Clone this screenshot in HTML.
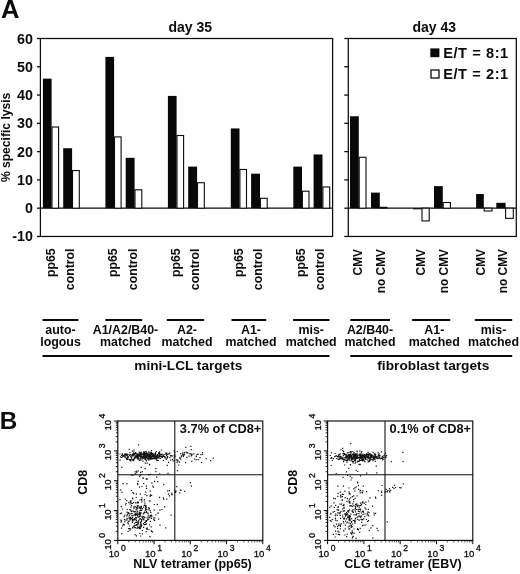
<!DOCTYPE html><html><head><meta charset="utf-8"><title>Figure</title><style>html,body{margin:0;padding:0;background:#fff}svg{display:block}text{font-family:"Liberation Sans",Arial,sans-serif;font-weight:bold;fill:#0b0b0b}</style></head><body>
<svg width="520" height="574" viewBox="0 0 520 574">
<rect width="520" height="574" fill="#fff"/>
<text x="0.90" y="18.20" font-size="25.5" text-anchor="start">A</text>
<text x="-0.20" y="429.40" font-size="24.3" text-anchor="start">B</text>
<rect x="40.4" y="38.5" width="292.20000000000005" height="197.96" fill="none" stroke="#0b0b0b" stroke-width="1.25"/>
<line x1="40.40" y1="208.18" x2="332.60" y2="208.18" stroke="#0b0b0b" stroke-width="1.3"/>
<rect x="348.3" y="38.5" width="167.99999999999994" height="197.96" fill="none" stroke="#0b0b0b" stroke-width="1.25"/>
<line x1="348.30" y1="208.18" x2="516.30" y2="208.18" stroke="#0b0b0b" stroke-width="1.3"/>
<line x1="37.00" y1="236.46" x2="40.40" y2="236.46" stroke="#0b0b0b" stroke-width="1.3"/>
<line x1="344.30" y1="236.46" x2="348.30" y2="236.46" stroke="#0b0b0b" stroke-width="1.3"/>
<text x="33.00" y="241.46" font-size="14.3" text-anchor="end">-10</text>
<line x1="37.00" y1="208.18" x2="40.40" y2="208.18" stroke="#0b0b0b" stroke-width="1.3"/>
<line x1="344.30" y1="208.18" x2="348.30" y2="208.18" stroke="#0b0b0b" stroke-width="1.3"/>
<text x="33.00" y="213.18" font-size="14.3" text-anchor="end">0</text>
<line x1="37.00" y1="179.90" x2="40.40" y2="179.90" stroke="#0b0b0b" stroke-width="1.3"/>
<line x1="344.30" y1="179.90" x2="348.30" y2="179.90" stroke="#0b0b0b" stroke-width="1.3"/>
<text x="33.00" y="184.90" font-size="14.3" text-anchor="end">10</text>
<line x1="37.00" y1="151.62" x2="40.40" y2="151.62" stroke="#0b0b0b" stroke-width="1.3"/>
<line x1="344.30" y1="151.62" x2="348.30" y2="151.62" stroke="#0b0b0b" stroke-width="1.3"/>
<text x="33.00" y="156.62" font-size="14.3" text-anchor="end">20</text>
<line x1="37.00" y1="123.34" x2="40.40" y2="123.34" stroke="#0b0b0b" stroke-width="1.3"/>
<line x1="344.30" y1="123.34" x2="348.30" y2="123.34" stroke="#0b0b0b" stroke-width="1.3"/>
<text x="33.00" y="128.34" font-size="14.3" text-anchor="end">30</text>
<line x1="37.00" y1="95.06" x2="40.40" y2="95.06" stroke="#0b0b0b" stroke-width="1.3"/>
<line x1="344.30" y1="95.06" x2="348.30" y2="95.06" stroke="#0b0b0b" stroke-width="1.3"/>
<text x="33.00" y="100.06" font-size="14.3" text-anchor="end">40</text>
<line x1="37.00" y1="66.78" x2="40.40" y2="66.78" stroke="#0b0b0b" stroke-width="1.3"/>
<line x1="344.30" y1="66.78" x2="348.30" y2="66.78" stroke="#0b0b0b" stroke-width="1.3"/>
<text x="33.00" y="71.78" font-size="14.3" text-anchor="end">50</text>
<line x1="37.00" y1="38.50" x2="40.40" y2="38.50" stroke="#0b0b0b" stroke-width="1.3"/>
<line x1="344.30" y1="38.50" x2="348.30" y2="38.50" stroke="#0b0b0b" stroke-width="1.3"/>
<text x="33.00" y="43.50" font-size="14.3" text-anchor="end">60</text>
<text x="190.20" y="31.80" font-size="14" text-anchor="middle">day 35</text>
<text x="434.30" y="32.20" font-size="14" text-anchor="middle">day 43</text>
<text x="9.60" y="137.40" font-size="12.1" text-anchor="middle" transform="rotate(-90 9.60 137.40)">% specific lysis</text>
<rect x="42.90" y="78.66" width="8.70" height="129.52" fill="#080808"/>
<rect x="52.00" y="127.02" width="6.60" height="81.16" fill="#fff" stroke="#0b0b0b" stroke-width="1.1"/>
<rect x="63.20" y="148.23" width="8.90" height="59.95" fill="#080808"/>
<rect x="72.50" y="170.57" width="6.80" height="37.61" fill="#fff" stroke="#0b0b0b" stroke-width="1.1"/>
<text x="55.00" y="248.30" font-size="12.3" text-anchor="end" transform="rotate(-90 55.00 248.30)">pp65</text>
<text x="74.20" y="248.50" font-size="12.3" text-anchor="end" transform="rotate(-90 74.20 248.50)">control</text>
<rect x="105.40" y="56.88" width="8.70" height="151.30" fill="#080808"/>
<rect x="114.50" y="136.91" width="6.60" height="71.27" fill="#fff" stroke="#0b0b0b" stroke-width="1.1"/>
<rect x="125.70" y="157.84" width="8.90" height="50.34" fill="#080808"/>
<rect x="135.00" y="189.80" width="6.80" height="18.38" fill="#fff" stroke="#0b0b0b" stroke-width="1.1"/>
<text x="117.50" y="248.30" font-size="12.3" text-anchor="end" transform="rotate(-90 117.50 248.30)">pp65</text>
<text x="136.70" y="248.50" font-size="12.3" text-anchor="end" transform="rotate(-90 136.70 248.50)">control</text>
<rect x="167.90" y="95.91" width="8.70" height="112.27" fill="#080808"/>
<rect x="177.00" y="135.50" width="6.60" height="72.68" fill="#fff" stroke="#0b0b0b" stroke-width="1.1"/>
<rect x="188.20" y="166.61" width="8.90" height="41.57" fill="#080808"/>
<rect x="197.50" y="182.73" width="6.80" height="25.45" fill="#fff" stroke="#0b0b0b" stroke-width="1.1"/>
<text x="180.00" y="248.30" font-size="12.3" text-anchor="end" transform="rotate(-90 180.00 248.30)">pp65</text>
<text x="199.20" y="248.50" font-size="12.3" text-anchor="end" transform="rotate(-90 199.20 248.50)">control</text>
<rect x="230.80" y="128.43" width="8.70" height="79.75" fill="#080808"/>
<rect x="239.90" y="169.44" width="6.60" height="38.74" fill="#fff" stroke="#0b0b0b" stroke-width="1.1"/>
<rect x="251.10" y="173.68" width="8.90" height="34.50" fill="#080808"/>
<rect x="260.40" y="198.28" width="6.80" height="9.90" fill="#fff" stroke="#0b0b0b" stroke-width="1.1"/>
<text x="242.90" y="248.30" font-size="12.3" text-anchor="end" transform="rotate(-90 242.90 248.30)">pp65</text>
<text x="262.10" y="248.50" font-size="12.3" text-anchor="end" transform="rotate(-90 262.10 248.50)">control</text>
<rect x="293.30" y="166.61" width="8.70" height="41.57" fill="#080808"/>
<rect x="302.40" y="191.21" width="6.60" height="16.97" fill="#fff" stroke="#0b0b0b" stroke-width="1.1"/>
<rect x="313.60" y="154.45" width="8.90" height="53.73" fill="#080808"/>
<rect x="322.90" y="186.97" width="6.80" height="21.21" fill="#fff" stroke="#0b0b0b" stroke-width="1.1"/>
<text x="305.40" y="248.30" font-size="12.3" text-anchor="end" transform="rotate(-90 305.40 248.30)">pp65</text>
<text x="323.60" y="248.50" font-size="12.3" text-anchor="end" transform="rotate(-90 323.60 248.50)">control</text>
<rect x="350.00" y="116.27" width="8.80" height="91.91" fill="#080808"/>
<rect x="359.20" y="157.28" width="6.80" height="50.90" fill="#fff" stroke="#0b0b0b" stroke-width="1.1"/>
<rect x="371.00" y="192.63" width="8.80" height="15.55" fill="#080808"/>
<rect x="380.20" y="207.33" width="6.80" height="0.85" fill="#fff" stroke="#0b0b0b" stroke-width="1.1"/>
<text x="361.80" y="249.00" font-size="11.9" text-anchor="end" transform="rotate(-90 361.80 249.00)">CMV</text>
<text x="385.00" y="249.00" font-size="11.9" text-anchor="end" transform="rotate(-90 385.00 249.00)">no CMV</text>
<rect x="413.00" y="208.18" width="8.80" height="1.13" fill="#080808"/>
<rect x="422.00" y="208.18" width="7.20" height="12.73" fill="#fff" stroke="#0b0b0b" stroke-width="1.1"/>
<rect x="434.00" y="186.12" width="8.80" height="22.06" fill="#080808"/>
<rect x="443.20" y="202.52" width="7.20" height="5.66" fill="#fff" stroke="#0b0b0b" stroke-width="1.1"/>
<text x="425.00" y="249.00" font-size="11.9" text-anchor="end" transform="rotate(-90 425.00 249.00)">CMV</text>
<text x="447.60" y="249.00" font-size="11.9" text-anchor="end" transform="rotate(-90 447.60 249.00)">no CMV</text>
<rect x="476.10" y="194.04" width="7.70" height="14.14" fill="#080808"/>
<rect x="484.20" y="208.18" width="7.80" height="2.83" fill="#fff" stroke="#0b0b0b" stroke-width="1.1"/>
<rect x="496.30" y="202.81" width="9.30" height="5.37" fill="#080808"/>
<rect x="505.60" y="208.18" width="7.70" height="10.18" fill="#fff" stroke="#0b0b0b" stroke-width="1.1"/>
<text x="485.40" y="249.00" font-size="11.9" text-anchor="end" transform="rotate(-90 485.40 249.00)">CMV</text>
<text x="507.20" y="249.00" font-size="11.9" text-anchor="end" transform="rotate(-90 507.20 249.00)">no CMV</text>
<rect x="430.3" y="48.4" width="9.1" height="8.8" fill="#080808"/>
<rect x="431" y="70" width="8" height="8" fill="#fff" stroke="#0b0b0b" stroke-width="1.3"/>
<text x="443.20" y="57.60" font-size="14.6" text-anchor="start" textLength="65" lengthAdjust="spacing">E/T = 8:1</text>
<text x="443.20" y="78.80" font-size="14.6" text-anchor="start" textLength="65" lengthAdjust="spacing">E/T = 2:1</text>
<line x1="42.50" y1="320.00" x2="78.50" y2="320.00" stroke="#0b0b0b" stroke-width="1.8"/>
<text x="60.50" y="333.60" font-size="12.4" text-anchor="middle">auto-</text>
<text x="60.50" y="345.80" font-size="12.4" text-anchor="middle">logous</text>
<line x1="105.30" y1="320.00" x2="142.20" y2="320.00" stroke="#0b0b0b" stroke-width="1.8"/>
<text x="125.50" y="333.60" font-size="12.4" text-anchor="middle">A1/A2/B40-</text>
<text x="125.50" y="345.80" font-size="12.4" text-anchor="middle">matched</text>
<line x1="166.80" y1="320.00" x2="204.20" y2="320.00" stroke="#0b0b0b" stroke-width="1.8"/>
<text x="187.00" y="333.60" font-size="12.4" text-anchor="middle">A2-</text>
<text x="187.00" y="345.80" font-size="12.4" text-anchor="middle">matched</text>
<line x1="231.50" y1="320.00" x2="266.20" y2="320.00" stroke="#0b0b0b" stroke-width="1.8"/>
<text x="251.00" y="333.60" font-size="12.4" text-anchor="middle">A1-</text>
<text x="251.00" y="345.80" font-size="12.4" text-anchor="middle">matched</text>
<line x1="293.10" y1="320.00" x2="329.50" y2="320.00" stroke="#0b0b0b" stroke-width="1.8"/>
<text x="311.20" y="333.60" font-size="12.4" text-anchor="middle">mis-</text>
<text x="311.20" y="345.80" font-size="12.4" text-anchor="middle">matched</text>
<line x1="42.50" y1="356.00" x2="329.50" y2="356.00" stroke="#0b0b0b" stroke-width="1.8"/>
<text x="188.30" y="370.40" font-size="13.5" text-anchor="middle" textLength="108" lengthAdjust="spacingAndGlyphs">mini-LCL targets</text>
<line x1="350.30" y1="320.00" x2="390.00" y2="320.00" stroke="#0b0b0b" stroke-width="1.8"/>
<text x="370.00" y="333.60" font-size="12.4" text-anchor="middle">A2/B40-</text>
<text x="370.00" y="345.80" font-size="12.4" text-anchor="middle">matched</text>
<line x1="412.10" y1="320.00" x2="450.20" y2="320.00" stroke="#0b0b0b" stroke-width="1.8"/>
<text x="434.30" y="333.60" font-size="12.4" text-anchor="middle">A1-</text>
<text x="434.30" y="345.80" font-size="12.4" text-anchor="middle">matched</text>
<line x1="474.80" y1="320.00" x2="512.20" y2="320.00" stroke="#0b0b0b" stroke-width="1.8"/>
<text x="493.60" y="333.60" font-size="12.4" text-anchor="middle">mis-</text>
<text x="493.60" y="345.80" font-size="12.4" text-anchor="middle">matched</text>
<line x1="350.30" y1="356.00" x2="512.20" y2="356.00" stroke="#0b0b0b" stroke-width="1.8"/>
<text x="433.30" y="370.40" font-size="13.5" text-anchor="middle" textLength="112" lengthAdjust="spacingAndGlyphs">fibroblast targets</text>
<rect x="117.8" y="421" width="145.0" height="119.39999999999998" fill="#fff" stroke="#0b0b0b" stroke-width="1.15"/>
<line x1="174.80" y1="421.00" x2="174.80" y2="540.40" stroke="#0b0b0b" stroke-width="1.05"/>
<line x1="117.80" y1="474.70" x2="262.80" y2="474.70" stroke="#0b0b0b" stroke-width="1.05"/>
<line x1="117.80" y1="540.40" x2="117.80" y2="544.20" stroke="#0b0b0b" stroke-width="1.0"/>
<line x1="114.00" y1="540.40" x2="117.80" y2="540.40" stroke="#0b0b0b" stroke-width="1.0"/>
<line x1="128.71" y1="540.40" x2="128.71" y2="542.40" stroke="#0b0b0b" stroke-width="0.7"/>
<line x1="115.80" y1="531.41" x2="117.80" y2="531.41" stroke="#0b0b0b" stroke-width="0.9"/>
<line x1="135.10" y1="540.40" x2="135.10" y2="542.40" stroke="#0b0b0b" stroke-width="0.7"/>
<line x1="115.80" y1="526.16" x2="117.80" y2="526.16" stroke="#0b0b0b" stroke-width="0.9"/>
<line x1="139.62" y1="540.40" x2="139.62" y2="542.40" stroke="#0b0b0b" stroke-width="0.7"/>
<line x1="115.80" y1="522.43" x2="117.80" y2="522.43" stroke="#0b0b0b" stroke-width="0.9"/>
<line x1="143.14" y1="540.40" x2="143.14" y2="542.40" stroke="#0b0b0b" stroke-width="0.7"/>
<line x1="115.80" y1="519.54" x2="117.80" y2="519.54" stroke="#0b0b0b" stroke-width="0.9"/>
<line x1="146.01" y1="540.40" x2="146.01" y2="542.40" stroke="#0b0b0b" stroke-width="0.7"/>
<line x1="115.80" y1="517.17" x2="117.80" y2="517.17" stroke="#0b0b0b" stroke-width="0.9"/>
<line x1="148.43" y1="540.40" x2="148.43" y2="542.40" stroke="#0b0b0b" stroke-width="0.7"/>
<line x1="115.80" y1="515.17" x2="117.80" y2="515.17" stroke="#0b0b0b" stroke-width="0.9"/>
<line x1="150.54" y1="540.40" x2="150.54" y2="542.40" stroke="#0b0b0b" stroke-width="0.7"/>
<line x1="115.80" y1="513.44" x2="117.80" y2="513.44" stroke="#0b0b0b" stroke-width="0.9"/>
<line x1="152.39" y1="540.40" x2="152.39" y2="542.40" stroke="#0b0b0b" stroke-width="0.7"/>
<line x1="115.80" y1="511.92" x2="117.80" y2="511.92" stroke="#0b0b0b" stroke-width="0.9"/>
<line x1="154.05" y1="540.40" x2="154.05" y2="544.20" stroke="#0b0b0b" stroke-width="1.0"/>
<line x1="114.00" y1="510.55" x2="117.80" y2="510.55" stroke="#0b0b0b" stroke-width="1.0"/>
<line x1="164.96" y1="540.40" x2="164.96" y2="542.40" stroke="#0b0b0b" stroke-width="0.7"/>
<line x1="115.80" y1="501.56" x2="117.80" y2="501.56" stroke="#0b0b0b" stroke-width="0.9"/>
<line x1="171.35" y1="540.40" x2="171.35" y2="542.40" stroke="#0b0b0b" stroke-width="0.7"/>
<line x1="115.80" y1="496.31" x2="117.80" y2="496.31" stroke="#0b0b0b" stroke-width="0.9"/>
<line x1="175.87" y1="540.40" x2="175.87" y2="542.40" stroke="#0b0b0b" stroke-width="0.7"/>
<line x1="115.80" y1="492.58" x2="117.80" y2="492.58" stroke="#0b0b0b" stroke-width="0.9"/>
<line x1="179.39" y1="540.40" x2="179.39" y2="542.40" stroke="#0b0b0b" stroke-width="0.7"/>
<line x1="115.80" y1="489.69" x2="117.80" y2="489.69" stroke="#0b0b0b" stroke-width="0.9"/>
<line x1="182.26" y1="540.40" x2="182.26" y2="542.40" stroke="#0b0b0b" stroke-width="0.7"/>
<line x1="115.80" y1="487.32" x2="117.80" y2="487.32" stroke="#0b0b0b" stroke-width="0.9"/>
<line x1="184.68" y1="540.40" x2="184.68" y2="542.40" stroke="#0b0b0b" stroke-width="0.7"/>
<line x1="115.80" y1="485.32" x2="117.80" y2="485.32" stroke="#0b0b0b" stroke-width="0.9"/>
<line x1="186.79" y1="540.40" x2="186.79" y2="542.40" stroke="#0b0b0b" stroke-width="0.7"/>
<line x1="115.80" y1="483.59" x2="117.80" y2="483.59" stroke="#0b0b0b" stroke-width="0.9"/>
<line x1="188.64" y1="540.40" x2="188.64" y2="542.40" stroke="#0b0b0b" stroke-width="0.7"/>
<line x1="115.80" y1="482.07" x2="117.80" y2="482.07" stroke="#0b0b0b" stroke-width="0.9"/>
<line x1="190.30" y1="540.40" x2="190.30" y2="544.20" stroke="#0b0b0b" stroke-width="1.0"/>
<line x1="114.00" y1="480.70" x2="117.80" y2="480.70" stroke="#0b0b0b" stroke-width="1.0"/>
<line x1="201.21" y1="540.40" x2="201.21" y2="542.40" stroke="#0b0b0b" stroke-width="0.7"/>
<line x1="115.80" y1="471.71" x2="117.80" y2="471.71" stroke="#0b0b0b" stroke-width="0.9"/>
<line x1="207.60" y1="540.40" x2="207.60" y2="542.40" stroke="#0b0b0b" stroke-width="0.7"/>
<line x1="115.80" y1="466.46" x2="117.80" y2="466.46" stroke="#0b0b0b" stroke-width="0.9"/>
<line x1="212.12" y1="540.40" x2="212.12" y2="542.40" stroke="#0b0b0b" stroke-width="0.7"/>
<line x1="115.80" y1="462.73" x2="117.80" y2="462.73" stroke="#0b0b0b" stroke-width="0.9"/>
<line x1="215.64" y1="540.40" x2="215.64" y2="542.40" stroke="#0b0b0b" stroke-width="0.7"/>
<line x1="115.80" y1="459.84" x2="117.80" y2="459.84" stroke="#0b0b0b" stroke-width="0.9"/>
<line x1="218.51" y1="540.40" x2="218.51" y2="542.40" stroke="#0b0b0b" stroke-width="0.7"/>
<line x1="115.80" y1="457.47" x2="117.80" y2="457.47" stroke="#0b0b0b" stroke-width="0.9"/>
<line x1="220.93" y1="540.40" x2="220.93" y2="542.40" stroke="#0b0b0b" stroke-width="0.7"/>
<line x1="115.80" y1="455.47" x2="117.80" y2="455.47" stroke="#0b0b0b" stroke-width="0.9"/>
<line x1="223.04" y1="540.40" x2="223.04" y2="542.40" stroke="#0b0b0b" stroke-width="0.7"/>
<line x1="115.80" y1="453.74" x2="117.80" y2="453.74" stroke="#0b0b0b" stroke-width="0.9"/>
<line x1="224.89" y1="540.40" x2="224.89" y2="542.40" stroke="#0b0b0b" stroke-width="0.7"/>
<line x1="115.80" y1="452.22" x2="117.80" y2="452.22" stroke="#0b0b0b" stroke-width="0.9"/>
<line x1="226.55" y1="540.40" x2="226.55" y2="544.20" stroke="#0b0b0b" stroke-width="1.0"/>
<line x1="114.00" y1="450.85" x2="117.80" y2="450.85" stroke="#0b0b0b" stroke-width="1.0"/>
<line x1="237.46" y1="540.40" x2="237.46" y2="542.40" stroke="#0b0b0b" stroke-width="0.7"/>
<line x1="115.80" y1="441.86" x2="117.80" y2="441.86" stroke="#0b0b0b" stroke-width="0.9"/>
<line x1="243.85" y1="540.40" x2="243.85" y2="542.40" stroke="#0b0b0b" stroke-width="0.7"/>
<line x1="115.80" y1="436.61" x2="117.80" y2="436.61" stroke="#0b0b0b" stroke-width="0.9"/>
<line x1="248.37" y1="540.40" x2="248.37" y2="542.40" stroke="#0b0b0b" stroke-width="0.7"/>
<line x1="115.80" y1="432.88" x2="117.80" y2="432.88" stroke="#0b0b0b" stroke-width="0.9"/>
<line x1="251.89" y1="540.40" x2="251.89" y2="542.40" stroke="#0b0b0b" stroke-width="0.7"/>
<line x1="115.80" y1="429.99" x2="117.80" y2="429.99" stroke="#0b0b0b" stroke-width="0.9"/>
<line x1="254.76" y1="540.40" x2="254.76" y2="542.40" stroke="#0b0b0b" stroke-width="0.7"/>
<line x1="115.80" y1="427.62" x2="117.80" y2="427.62" stroke="#0b0b0b" stroke-width="0.9"/>
<line x1="257.18" y1="540.40" x2="257.18" y2="542.40" stroke="#0b0b0b" stroke-width="0.7"/>
<line x1="115.80" y1="425.62" x2="117.80" y2="425.62" stroke="#0b0b0b" stroke-width="0.9"/>
<line x1="259.29" y1="540.40" x2="259.29" y2="542.40" stroke="#0b0b0b" stroke-width="0.7"/>
<line x1="115.80" y1="423.89" x2="117.80" y2="423.89" stroke="#0b0b0b" stroke-width="0.9"/>
<line x1="261.14" y1="540.40" x2="261.14" y2="542.40" stroke="#0b0b0b" stroke-width="0.7"/>
<line x1="115.80" y1="422.37" x2="117.80" y2="422.37" stroke="#0b0b0b" stroke-width="0.9"/>
<line x1="262.80" y1="540.40" x2="262.80" y2="544.20" stroke="#0b0b0b" stroke-width="1.0"/>
<line x1="114.00" y1="421.00" x2="117.80" y2="421.00" stroke="#0b0b0b" stroke-width="1.0"/>
<text x="119.30" y="556.60" font-size="9.6" text-anchor="end" style="font-weight:normal" stroke="#0b0b0b" stroke-width="0.3">10</text>
<text x="120.90" y="550.50" font-size="8.6" style="font-weight:normal" stroke="#0b0b0b" stroke-width="0.3">0</text>
<g transform="translate(111.20 540.40) rotate(-90)"><text x="1.2" y="0" font-size="9.6" text-anchor="end" style="font-weight:normal" stroke="#0b0b0b" stroke-width="0.3">10</text><text x="2.6" y="-5.8" font-size="8.6" style="font-weight:normal" stroke="#0b0b0b" stroke-width="0.3">0</text></g>
<text x="155.55" y="556.60" font-size="9.6" text-anchor="end" style="font-weight:normal" stroke="#0b0b0b" stroke-width="0.3">10</text>
<text x="157.15" y="550.50" font-size="8.6" style="font-weight:normal" stroke="#0b0b0b" stroke-width="0.3">1</text>
<g transform="translate(111.20 510.55) rotate(-90)"><text x="1.2" y="0" font-size="9.6" text-anchor="end" style="font-weight:normal" stroke="#0b0b0b" stroke-width="0.3">10</text><text x="2.6" y="-5.8" font-size="8.6" style="font-weight:normal" stroke="#0b0b0b" stroke-width="0.3">1</text></g>
<text x="191.80" y="556.60" font-size="9.6" text-anchor="end" style="font-weight:normal" stroke="#0b0b0b" stroke-width="0.3">10</text>
<text x="193.40" y="550.50" font-size="8.6" style="font-weight:normal" stroke="#0b0b0b" stroke-width="0.3">2</text>
<g transform="translate(111.20 480.70) rotate(-90)"><text x="1.2" y="0" font-size="9.6" text-anchor="end" style="font-weight:normal" stroke="#0b0b0b" stroke-width="0.3">10</text><text x="2.6" y="-5.8" font-size="8.6" style="font-weight:normal" stroke="#0b0b0b" stroke-width="0.3">2</text></g>
<text x="228.05" y="556.60" font-size="9.6" text-anchor="end" style="font-weight:normal" stroke="#0b0b0b" stroke-width="0.3">10</text>
<text x="229.65" y="550.50" font-size="8.6" style="font-weight:normal" stroke="#0b0b0b" stroke-width="0.3">3</text>
<g transform="translate(111.20 450.85) rotate(-90)"><text x="1.2" y="0" font-size="9.6" text-anchor="end" style="font-weight:normal" stroke="#0b0b0b" stroke-width="0.3">10</text><text x="2.6" y="-5.8" font-size="8.6" style="font-weight:normal" stroke="#0b0b0b" stroke-width="0.3">3</text></g>
<text x="264.30" y="556.60" font-size="9.6" text-anchor="end" style="font-weight:normal" stroke="#0b0b0b" stroke-width="0.3">10</text>
<text x="265.90" y="550.50" font-size="8.6" style="font-weight:normal" stroke="#0b0b0b" stroke-width="0.3">4</text>
<g transform="translate(111.20 421.00) rotate(-90)"><text x="1.2" y="0" font-size="9.6" text-anchor="end" style="font-weight:normal" stroke="#0b0b0b" stroke-width="0.3">10</text><text x="2.6" y="-5.8" font-size="8.6" style="font-weight:normal" stroke="#0b0b0b" stroke-width="0.3">4</text></g>
<text x="192.50" y="567.70" font-size="12.5" text-anchor="middle">NLV tetramer (pp65)</text>
<text x="87.50" y="482.30" font-size="12.5" text-anchor="middle" transform="rotate(-90 87.50 482.30)">CD8</text>
<text x="261.30" y="432.80" font-size="12.8" text-anchor="end">3.7% of CD8+</text>
<path d="M147.4 453.3h1.2M132.6 453.9h1.2M142.3 456.5h1.2M173.6 455.6h1.2M145.5 454.4h1.2M162.4 456.0h1.2M154.6 458.0h1.2M140.8 456.8h1.2M126.8 459.1h1.2M122.5 456.4h1.2M143.6 456.6h1.2M147.1 458.7h1.2M144.9 455.4h1.2M157.0 457.7h1.2M140.3 460.1h1.2M138.8 460.5h1.2M125.5 453.6h1.2M150.8 456.6h1.2M152.7 454.8h1.2M161.2 456.4h1.2M137.5 457.2h1.2M131.8 456.0h1.2M134.7 453.7h1.2M132.3 460.3h1.2M173.7 461.0h1.2M142.0 457.0h1.2M170.1 460.1h1.2M161.6 457.5h1.2M143.8 457.3h1.2M155.4 458.3h1.2M144.9 455.2h1.2M172.8 461.0h1.2M168.2 453.9h1.2M139.1 455.3h1.2M139.3 452.5h1.2M149.1 456.4h1.2M142.8 456.3h1.2M143.5 457.8h1.2M175.9 459.9h1.2M143.9 455.1h1.2M143.1 456.2h1.2M150.9 453.9h1.2M139.6 456.7h1.2M174.2 454.8h1.2M131.8 451.1h1.2M157.3 457.2h1.2M129.0 455.3h1.2M134.0 458.1h1.2M127.3 457.0h1.2M162.1 456.8h1.2M125.1 454.5h1.2M147.0 454.2h1.2M163.5 456.3h1.2M144.0 456.0h1.2M129.6 454.5h1.2M166.0 455.6h1.2M142.6 456.5h1.2M134.8 457.6h1.2M140.3 457.7h1.2M139.7 459.2h1.2M151.2 455.8h1.2M129.4 460.7h1.2M146.0 453.6h1.2M135.4 456.9h1.2M137.8 454.6h1.2M132.8 453.9h1.2M141.7 454.0h1.2M146.5 456.4h1.2M124.6 457.4h1.2M142.3 454.5h1.2M149.6 457.4h1.2M152.0 453.9h1.2M143.9 456.8h1.2M140.4 454.2h1.2M153.9 457.9h1.2M151.5 456.9h1.2M135.2 453.3h1.2M158.0 457.4h1.2M147.2 454.9h1.2M136.8 456.2h1.2M155.7 459.7h1.2M150.8 454.4h1.2M153.4 458.7h1.2M150.7 457.7h1.2M154.3 454.7h1.2M149.2 457.5h1.2M137.5 454.1h1.2M133.0 454.9h1.2M153.5 456.5h1.2M180.8 455.8h1.2M177.2 460.1h1.2M155.3 456.6h1.2M145.3 459.9h1.2M137.0 458.1h1.2M142.9 454.1h1.2M146.8 455.1h1.2M136.0 456.8h1.2M147.7 456.5h1.2M164.4 457.8h1.2M173.5 458.0h1.2M161.4 457.5h1.2M170.0 455.6h1.2M151.9 454.4h1.2M136.9 458.1h1.2M136.0 457.2h1.2M145.6 451.8h1.2M121.0 455.4h1.2M140.3 454.8h1.2M120.0 456.8h1.2M158.3 452.7h1.2M169.2 457.7h1.2M146.9 456.2h1.2M126.1 458.9h1.2M157.1 455.4h1.2M144.0 453.4h1.2M131.5 454.8h1.2M146.2 456.0h1.2M153.2 455.6h1.2M149.9 455.4h1.2M174.2 456.6h1.2M160.8 454.7h1.2M141.0 454.3h1.2M133.6 453.5h1.2M134.3 456.9h1.2M150.8 454.2h1.2M159.2 454.1h1.2M143.1 457.9h1.2M154.0 455.3h1.2M132.3 453.9h1.2M149.0 457.9h1.2M152.5 458.7h1.2M133.4 455.1h1.2M123.5 455.8h1.2M126.5 454.4h1.2M135.5 455.5h1.2M124.3 456.6h1.2M159.8 455.0h1.2M119.4 454.0h1.2M159.0 456.7h1.2M166.6 458.1h1.2M144.8 453.6h1.2M165.1 453.2h1.2M130.2 459.6h1.2M151.7 458.9h1.2M144.2 458.6h1.2M161.5 454.2h1.2M154.1 455.9h1.2M146.7 456.5h1.2M151.6 455.4h1.2M152.7 456.8h1.2M173.6 455.3h1.2M166.3 453.1h1.2M133.3 459.4h1.2M164.3 456.7h1.2M147.3 456.5h1.2M148.0 458.4h1.2M144.6 456.9h1.2M145.9 460.8h1.2M158.0 455.2h1.2M121.0 457.5h1.2M146.5 454.6h1.2M146.1 453.0h1.2M146.4 458.0h1.2M136.3 454.4h1.2M137.2 454.2h1.2M160.9 454.7h1.2M160.8 456.3h1.2M145.9 457.2h1.2M137.2 459.2h1.2M138.0 458.2h1.2M125.4 455.6h1.2M152.7 456.6h1.2M165.9 454.0h1.2M161.2 457.2h1.2M124.4 454.8h1.2M150.5 454.4h1.2M152.1 453.3h1.2M141.9 454.5h1.2M133.1 460.7h1.2M139.6 452.8h1.2M121.8 453.8h1.2M136.2 456.8h1.2M146.7 455.5h1.2M131.9 455.7h1.2M152.5 454.2h1.2M135.1 452.7h1.2M173.7 450.9h1.2M126.6 455.6h1.2M154.1 458.3h1.2M123.1 455.5h1.2M155.2 457.6h1.2M142.3 461.2h1.2M135.8 455.6h1.2M148.3 452.6h1.2M129.5 460.6h1.2M152.6 457.2h1.2M150.2 454.4h1.2M154.8 452.9h1.2M165.7 459.4h1.2M145.2 451.7h1.2M140.2 453.9h1.2M145.3 456.8h1.2M169.0 453.7h1.2M142.5 454.0h1.2M127.0 457.4h1.2M159.2 455.8h1.2M130.7 455.0h1.2M150.8 453.2h1.2M159.9 456.5h1.2M139.1 456.2h1.2M142.8 452.9h1.2M169.1 453.1h1.2M151.6 456.4h1.2M159.2 456.7h1.2M149.5 459.4h1.2M139.9 452.9h1.2M131.2 459.0h1.2M143.7 452.4h1.2M167.1 456.7h1.2M139.1 456.2h1.2M132.6 455.8h1.2M141.7 459.0h1.2M137.7 456.5h1.2M133.6 458.3h1.2M159.2 452.0h1.2M141.9 456.8h1.2M153.4 456.4h1.2M134.7 453.0h1.2M131.0 457.5h1.2M136.4 457.8h1.2M142.6 454.7h1.2M167.0 454.5h1.2M146.6 458.5h1.2M145.2 457.9h1.2M144.7 453.9h1.2M149.0 456.4h1.2M135.2 456.0h1.2M147.7 457.9h1.2M138.7 454.1h1.2M122.0 456.9h1.2M129.2 452.7h1.2M154.8 454.8h1.2M151.8 455.3h1.2M150.3 459.2h1.2M149.8 454.7h1.2M125.4 454.2h1.2M155.7 459.1h1.2M139.2 456.6h1.2M138.4 455.1h1.2M127.6 456.4h1.2M149.3 454.4h1.2M146.8 456.4h1.2M156.1 460.1h1.2M159.6 456.6h1.2M127.9 456.8h1.2M119.5 460.2h1.2M141.3 457.5h1.2M156.7 457.8h1.2M127.3 457.9h1.2M170.9 455.9h1.2M137.2 458.0h1.2M130.1 456.3h1.2M152.3 453.5h1.2M162.7 455.4h1.2M136.5 457.7h1.2M152.2 456.6h1.2M151.4 458.7h1.2M159.1 455.3h1.2M146.7 455.1h1.2M133.1 452.1h1.2M143.4 457.0h1.2M158.4 458.1h1.2M166.7 457.4h1.2M145.2 457.8h1.2M157.8 460.5h1.2M156.1 457.6h1.2M146.8 458.3h1.2M149.4 455.5h1.2M154.6 455.3h1.2M155.1 453.8h1.2M140.4 458.4h1.2M127.5 454.5h1.2M140.6 453.7h1.2M146.7 458.0h1.2M159.2 451.9h1.2M143.5 457.9h1.2M133.8 454.1h1.2M137.6 456.8h1.2M156.0 455.9h1.2M147.7 457.1h1.2M136.8 455.6h1.2M148.3 454.7h1.2M138.8 455.2h1.2M153.0 455.8h1.2M154.3 453.8h1.2M148.9 455.8h1.2M132.0 455.2h1.2M144.7 456.6h1.2M134.1 454.7h1.2M183.2 455.0h1.2M147.3 455.0h1.2M137.5 455.7h1.2M136.5 457.3h1.2M149.4 455.4h1.2M144.4 457.6h1.2M149.9 458.2h1.2M157.3 456.6h1.2M146.1 454.3h1.2M154.1 458.6h1.2M142.5 455.2h1.2M130.3 460.9h1.2M145.0 456.0h1.2M152.3 455.8h1.2M148.0 455.4h1.2M166.0 454.9h1.2M153.9 456.7h1.2M162.4 456.3h1.2M156.8 460.3h1.2M149.6 456.1h1.2M139.4 453.2h1.2M151.9 456.2h1.2M138.5 452.0h1.2M156.9 454.6h1.2M135.0 453.2h1.2M154.2 456.5h1.2M144.6 459.3h1.2M155.5 458.2h1.2M158.3 456.8h1.2M137.1 455.2h1.2M149.1 458.3h1.2M145.0 454.7h1.2M142.4 458.7h1.2M142.6 457.9h1.2M137.7 455.8h1.2M145.3 456.4h1.2M122.2 455.2h1.2M143.2 456.8h1.2M148.3 451.9h1.2M127.4 459.3h1.2M157.1 457.6h1.2M164.9 458.0h1.2M139.1 454.2h1.2M159.2 455.0h1.2M152.6 456.2h1.2M139.7 456.3h1.2M164.4 454.5h1.2M146.3 455.3h1.2M158.0 453.5h1.2M144.2 456.1h1.2M150.8 450.5h1.2M149.6 453.3h1.2M124.0 454.2h1.2M125.8 458.2h1.2M136.9 456.2h1.2M148.7 455.2h1.2M149.3 456.8h1.2M183.4 455.1h1.2M155.7 451.7h1.2M160.0 454.7h1.2M150.7 452.1h1.2M130.5 457.9h1.2M148.2 460.1h1.2M134.9 453.6h1.2M139.4 455.6h1.2M156.0 458.3h1.2M150.0 457.2h1.2M130.4 456.5h1.2M145.3 456.8h1.2M136.6 453.9h1.2M162.6 454.8h1.2M144.7 458.1h1.2M134.3 458.2h1.2M149.8 452.9h1.2M159.9 458.5h1.2M141.3 457.3h1.2M148.5 454.8h1.2M168.0 462.4h1.2M176.9 470.7h1.2M121.2 467.3h1.2M132.1 459.7h1.2M176.5 462.4h1.2M162.7 460.5h1.2M149.0 464.3h1.2M179.4 458.5h1.2M138.0 444.9h1.2M149.4 455.9h1.2M144.7 463.2h1.2M126.2 459.4h1.2M170.0 455.8h1.2M144.3 452.0h1.2M133.4 450.2h1.2M146.6 463.2h1.2M156.5 455.3h1.2M141.9 457.0h1.2M160.9 450.0h1.2M134.6 473.9h1.2M176.2 459.9h1.2M140.8 455.8h1.2M140.7 452.2h1.2M128.9 459.5h1.2M128.7 449.3h1.2M143.3 451.8h1.2M166.7 465.4h1.2M143.6 454.1h1.2M147.5 459.1h1.2M158.9 452.9h1.2M138.3 459.1h1.2M156.1 457.1h1.2M148.8 464.9h1.2M172.0 459.7h1.2M150.6 458.5h1.2M147.7 457.4h1.2M182.2 454.4h1.2M202.0 454.3h1.2M197.3 454.0h1.2M190.6 449.7h1.2M183.7 454.4h1.2M200.3 454.7h1.2M180.1 459.2h1.2M205.5 458.7h1.2M190.4 453.9h1.2M191.2 461.4h1.2M171.9 456.0h1.2M182.8 456.5h1.2M191.2 455.1h1.2M177.3 461.1h1.2M199.4 457.7h1.2M178.9 462.1h1.2M195.5 459.7h1.2M180.1 453.6h1.2M193.3 453.8h1.2M178.0 465.0h1.2M180.7 456.6h1.2M183.9 452.7h1.2M193.8 459.0h1.2M195.8 456.1h1.2M185.6 452.0h1.2M174.1 452.3h1.2M200.9 462.3h1.2M188.4 456.2h1.2M179.3 457.5h1.2M182.4 455.4h1.2M184.9 462.6h1.2M201.9 452.7h1.2M182.2 452.8h1.2M210.0 460.7h1.2M186.3 457.3h1.2M195.7 456.6h1.2M176.7 451.5h1.2M187.2 453.2h1.2M212.6 458.1h1.2M186.3 452.6h1.2M189.3 453.9h1.2M190.3 446.4h1.2M196.5 454.5h1.2M191.5 454.4h1.2M174.4 456.5h1.2M197.6 459.6h1.2M190.7 455.9h1.2M185.3 447.4h1.2M197.3 454.5h1.2M182.6 455.3h1.2M135.1 517.3h1.2M139.7 494.1h1.2M149.4 501.2h1.2M149.7 491.2h1.2M132.0 528.0h1.2M139.6 514.2h1.2M138.1 522.1h1.2M143.7 501.0h1.2M139.7 518.5h1.2M148.2 519.2h1.2M134.7 513.6h1.2M136.9 511.9h1.2M140.5 512.8h1.2M126.1 500.6h1.2M142.8 513.8h1.2M165.2 527.8h1.2M144.2 517.4h1.2M124.7 499.1h1.2M124.2 515.2h1.2M137.0 514.8h1.2M129.6 504.2h1.2M140.0 527.9h1.2M127.2 514.0h1.2M127.7 512.6h1.2M140.6 521.7h1.2M121.0 528.1h1.2M140.9 521.1h1.2M154.0 520.4h1.2M141.1 510.4h1.2M138.6 513.7h1.2M146.6 517.8h1.2M140.7 519.7h1.2M155.2 514.9h1.2M133.5 526.6h1.2M138.1 520.4h1.2M128.7 518.9h1.2M144.9 506.9h1.2M133.2 507.0h1.2M132.4 510.9h1.2M130.3 507.1h1.2M158.0 519.1h1.2M148.4 529.5h1.2M132.3 492.6h1.2M137.2 512.0h1.2M123.6 516.6h1.2M131.0 505.7h1.2M133.1 493.6h1.2M128.3 513.5h1.2M120.3 520.1h1.2M148.4 517.4h1.2M126.5 512.1h1.2M146.0 512.5h1.2M146.4 529.2h1.2M153.6 510.1h1.2M119.4 499.7h1.2M133.7 511.9h1.2M120.5 522.1h1.2M121.9 509.0h1.2M135.8 524.8h1.2M134.5 506.4h1.2M131.0 511.4h1.2M127.5 531.4h1.2M133.5 519.1h1.2M139.3 508.1h1.2M134.2 519.8h1.2M144.4 512.7h1.2M137.3 514.4h1.2M123.8 519.7h1.2M145.6 531.6h1.2M145.8 521.5h1.2M135.9 520.7h1.2M143.9 522.5h1.2M119.7 513.6h1.2M136.4 510.9h1.2M143.0 527.4h1.2M139.5 515.4h1.2M137.1 515.6h1.2M140.5 521.5h1.2M136.4 507.7h1.2M128.5 517.2h1.2M128.9 526.0h1.2M134.1 514.9h1.2M151.0 518.3h1.2M145.9 511.7h1.2M138.8 516.0h1.2M128.7 515.3h1.2M150.6 526.8h1.2M133.3 508.4h1.2M122.1 525.8h1.2M140.3 508.0h1.2M148.3 509.8h1.2M157.8 513.0h1.2M126.5 518.3h1.2M143.2 513.2h1.2M120.9 513.1h1.2M130.8 518.3h1.2M150.5 518.0h1.2M132.0 517.6h1.2M132.1 498.2h1.2M144.9 508.3h1.2M131.8 522.3h1.2M140.0 536.0h1.2M146.6 528.0h1.2M138.6 513.5h1.2M130.9 513.3h1.2M143.8 499.5h1.2M141.2 500.2h1.2M141.8 518.2h1.2M145.2 521.2h1.2M139.1 510.9h1.2M147.7 514.0h1.2M125.0 504.9h1.2M139.2 519.2h1.2M130.7 511.4h1.2M140.6 510.4h1.2M136.6 502.8h1.2M135.5 512.9h1.2M139.5 507.0h1.2M131.7 519.2h1.2M135.9 522.4h1.2M132.0 527.3h1.2M144.3 503.2h1.2M129.2 509.6h1.2M127.7 523.8h1.2M135.0 515.4h1.2M141.7 533.8h1.2M126.3 515.8h1.2M135.6 497.5h1.2M135.3 522.4h1.2M121.5 492.3h1.2M132.3 515.9h1.2M136.1 524.5h1.2M136.5 528.3h1.2M146.1 509.7h1.2M143.6 524.7h1.2M120.9 520.9h1.2M128.2 513.1h1.2M123.7 524.8h1.2M138.9 512.7h1.2M138.5 527.8h1.2M131.8 498.6h1.2M145.9 523.9h1.2M154.2 517.8h1.2M137.6 524.0h1.2M150.8 515.6h1.2M137.0 524.8h1.2M126.6 515.0h1.2M137.8 502.7h1.2M129.8 519.9h1.2M146.3 509.3h1.2M131.8 503.5h1.2M141.8 508.6h1.2M140.7 507.9h1.2M134.1 518.5h1.2M147.1 513.1h1.2M140.8 506.4h1.2M139.7 512.9h1.2M144.8 524.4h1.2M135.2 514.5h1.2M136.5 508.8h1.2M141.8 518.1h1.2M147.1 519.8h1.2M131.5 513.7h1.2M143.2 517.9h1.2M128.4 521.2h1.2M139.7 510.5h1.2M153.1 518.0h1.2M135.8 535.8h1.2M148.8 508.4h1.2M137.8 522.9h1.2M130.9 503.1h1.2M144.3 505.1h1.2M136.5 505.9h1.2M125.5 503.5h1.2M137.4 527.1h1.2M134.2 525.3h1.2M140.0 523.0h1.2M126.6 519.8h1.2M135.7 514.7h1.2M143.7 505.3h1.2M141.3 501.9h1.2M145.8 528.3h1.2M135.9 514.6h1.2M124.2 521.7h1.2M142.9 519.4h1.2M151.0 495.4h1.2M137.1 526.8h1.2M137.4 521.6h1.2M125.3 520.2h1.2M133.6 519.7h1.2M145.7 507.0h1.2M141.3 519.8h1.2M141.4 516.4h1.2M139.6 525.2h1.2M132.5 521.0h1.2M137.6 517.1h1.2M135.1 502.9h1.2M138.8 514.5h1.2M130.0 517.4h1.2M141.7 517.3h1.2M140.5 524.9h1.2M141.0 525.7h1.2M133.9 523.4h1.2M139.3 506.8h1.2M140.2 524.4h1.2M138.9 507.3h1.2M144.0 512.1h1.2M127.9 521.5h1.2M131.8 520.8h1.2M139.7 516.2h1.2M134.7 511.5h1.2M131.5 519.5h1.2M138.6 528.6h1.2M130.3 529.0h1.2M128.6 517.8h1.2M136.6 513.5h1.2M140.6 526.7h1.2M153.8 504.5h1.2M127.2 522.7h1.2M133.6 514.8h1.2M143.0 516.5h1.2M145.1 509.2h1.2M131.2 515.7h1.2M145.7 520.7h1.2M147.6 515.8h1.2M151.4 516.1h1.2M150.6 530.8h1.2M150.2 512.5h1.2M134.4 507.0h1.2M135.4 509.3h1.2M145.9 507.2h1.2M156.8 504.3h1.2M159.3 510.2h1.2M139.0 513.0h1.2M137.4 527.5h1.2M139.0 527.1h1.2M135.3 519.2h1.2M132.9 526.0h1.2M138.7 516.8h1.2M149.6 510.9h1.2M145.9 520.7h1.2M135.0 527.7h1.2M130.2 510.2h1.2M136.0 517.8h1.2M132.9 502.7h1.2M137.2 506.4h1.2M137.4 508.1h1.2M129.3 528.5h1.2M147.3 519.3h1.2M140.0 508.8h1.2M149.6 496.4h1.2M144.5 494.5h1.2M141.8 530.5h1.2M148.9 524.9h1.2M132.2 475.4h1.2M141.3 497.8h1.2M134.5 534.6h1.2M152.1 486.0h1.2M141.4 486.5h1.2M130.0 518.3h1.2M143.0 523.6h1.2M149.8 494.9h1.2M129.3 530.1h1.2M126.3 483.7h1.2M129.8 502.1h1.2M143.0 507.1h1.2M145.1 492.1h1.2M152.8 487.2h1.2M148.1 474.9h1.2M137.4 481.3h1.2M133.7 527.7h1.2M146.3 495.7h1.2M137.8 471.0h1.2M135.1 473.8h1.2M164.0 506.9h1.2M146.5 479.2h1.2M148.0 507.8h1.2M136.2 472.3h1.2M153.2 519.6h1.2M170.4 515.2h1.2M144.7 510.4h1.2M151.0 531.4h1.2M139.9 475.1h1.2M141.7 471.6h1.2M149.8 521.3h1.2M150.1 516.1h1.2M135.1 522.3h1.2M126.6 509.5h1.2M137.3 501.8h1.2M134.6 471.9h1.2M163.1 484.6h1.2M143.3 519.9h1.2M137.2 523.1h1.2M159.1 473.9h1.2M167.4 473.3h1.2M135.8 507.5h1.2M139.2 533.5h1.2M149.1 517.2h1.2M136.1 471.1h1.2M149.6 515.6h1.2M167.1 490.8h1.2M161.4 509.5h1.2M157.3 513.2h1.2M132.3 519.8h1.2M128.1 528.7h1.2M139.0 476.3h1.2M140.1 513.3h1.2M146.5 529.4h1.2M150.7 515.2h1.2M129.6 514.0h1.2M138.1 517.0h1.2M120.7 506.7h1.2M143.1 483.5h1.2M135.3 525.5h1.2M142.0 478.0h1.2M129.7 501.2h1.2M142.9 478.1h1.2M133.3 511.7h1.2M149.4 536.7h1.2M128.2 502.6h1.2M137.6 505.7h1.2M122.7 524.4h1.2M144.6 468.6h1.2M159.4 525.1h1.2M157.2 481.6h1.2M141.0 499.5h1.2M146.2 478.6h1.2M155.2 468.7h1.2M121.2 533.7h1.2M137.2 484.4h1.2M145.3 505.7h1.2M140.6 467.3h1.2M120.1 489.9h1.2M152.0 531.8h1.2M130.7 474.9h1.2M145.6 479.2h1.2M144.1 517.7h1.2M139.9 522.6h1.2M138.9 487.2h1.2M155.3 471.7h1.2M144.7 522.4h1.2M135.8 493.9h1.2M122.4 483.7h1.2M140.7 524.0h1.2M139.4 499.8h1.2M149.6 496.2h1.2M139.8 528.4h1.2M148.8 500.8h1.2M130.7 490.5h1.2M154.0 481.3h1.2M156.0 477.1h1.2M139.6 525.8h1.2M149.9 474.3h1.2M130.4 500.9h1.2M145.9 488.4h1.2M136.9 483.7h1.2M151.2 482.9h1.2M140.0 472.3h1.2M145.8 486.2h1.2M176.1 486.6h1.2M175.6 491.0h1.2M171.1 494.3h1.2M190.8 486.2h1.2M180.4 490.3h1.2M175.0 491.3h1.2M189.8 482.6h1.2M171.5 494.6h1.2M173.9 490.0h1.2M167.8 494.2h1.2M179.6 490.0h1.2M168.8 490.7h1.2M174.5 492.3h1.2M184.1 491.4h1.2M159.0 497.4h1.2M163.2 499.4h1.2M168.8 495.9h1.2M179.2 492.9h1.2M175.0 492.2h1.2M171.2 493.4h1.2M162.8 497.9h1.2M166.1 499.1h1.2" stroke="#141414" stroke-width="1.2" fill="none"/>
<rect x="327.6" y="421" width="145.2" height="119.39999999999998" fill="#fff" stroke="#0b0b0b" stroke-width="1.15"/>
<line x1="385.00" y1="421.00" x2="385.00" y2="540.40" stroke="#0b0b0b" stroke-width="1.05"/>
<line x1="327.60" y1="474.70" x2="472.80" y2="474.70" stroke="#0b0b0b" stroke-width="1.05"/>
<line x1="327.60" y1="540.40" x2="327.60" y2="544.20" stroke="#0b0b0b" stroke-width="1.0"/>
<line x1="323.80" y1="540.40" x2="327.60" y2="540.40" stroke="#0b0b0b" stroke-width="1.0"/>
<line x1="338.53" y1="540.40" x2="338.53" y2="542.40" stroke="#0b0b0b" stroke-width="0.7"/>
<line x1="325.60" y1="531.41" x2="327.60" y2="531.41" stroke="#0b0b0b" stroke-width="0.9"/>
<line x1="344.92" y1="540.40" x2="344.92" y2="542.40" stroke="#0b0b0b" stroke-width="0.7"/>
<line x1="325.60" y1="526.16" x2="327.60" y2="526.16" stroke="#0b0b0b" stroke-width="0.9"/>
<line x1="349.45" y1="540.40" x2="349.45" y2="542.40" stroke="#0b0b0b" stroke-width="0.7"/>
<line x1="325.60" y1="522.43" x2="327.60" y2="522.43" stroke="#0b0b0b" stroke-width="0.9"/>
<line x1="352.97" y1="540.40" x2="352.97" y2="542.40" stroke="#0b0b0b" stroke-width="0.7"/>
<line x1="325.60" y1="519.54" x2="327.60" y2="519.54" stroke="#0b0b0b" stroke-width="0.9"/>
<line x1="355.85" y1="540.40" x2="355.85" y2="542.40" stroke="#0b0b0b" stroke-width="0.7"/>
<line x1="325.60" y1="517.17" x2="327.60" y2="517.17" stroke="#0b0b0b" stroke-width="0.9"/>
<line x1="358.28" y1="540.40" x2="358.28" y2="542.40" stroke="#0b0b0b" stroke-width="0.7"/>
<line x1="325.60" y1="515.17" x2="327.60" y2="515.17" stroke="#0b0b0b" stroke-width="0.9"/>
<line x1="360.38" y1="540.40" x2="360.38" y2="542.40" stroke="#0b0b0b" stroke-width="0.7"/>
<line x1="325.60" y1="513.44" x2="327.60" y2="513.44" stroke="#0b0b0b" stroke-width="0.9"/>
<line x1="362.24" y1="540.40" x2="362.24" y2="542.40" stroke="#0b0b0b" stroke-width="0.7"/>
<line x1="325.60" y1="511.92" x2="327.60" y2="511.92" stroke="#0b0b0b" stroke-width="0.9"/>
<line x1="363.90" y1="540.40" x2="363.90" y2="544.20" stroke="#0b0b0b" stroke-width="1.0"/>
<line x1="323.80" y1="510.55" x2="327.60" y2="510.55" stroke="#0b0b0b" stroke-width="1.0"/>
<line x1="374.83" y1="540.40" x2="374.83" y2="542.40" stroke="#0b0b0b" stroke-width="0.7"/>
<line x1="325.60" y1="501.56" x2="327.60" y2="501.56" stroke="#0b0b0b" stroke-width="0.9"/>
<line x1="381.22" y1="540.40" x2="381.22" y2="542.40" stroke="#0b0b0b" stroke-width="0.7"/>
<line x1="325.60" y1="496.31" x2="327.60" y2="496.31" stroke="#0b0b0b" stroke-width="0.9"/>
<line x1="385.75" y1="540.40" x2="385.75" y2="542.40" stroke="#0b0b0b" stroke-width="0.7"/>
<line x1="325.60" y1="492.58" x2="327.60" y2="492.58" stroke="#0b0b0b" stroke-width="0.9"/>
<line x1="389.27" y1="540.40" x2="389.27" y2="542.40" stroke="#0b0b0b" stroke-width="0.7"/>
<line x1="325.60" y1="489.69" x2="327.60" y2="489.69" stroke="#0b0b0b" stroke-width="0.9"/>
<line x1="392.15" y1="540.40" x2="392.15" y2="542.40" stroke="#0b0b0b" stroke-width="0.7"/>
<line x1="325.60" y1="487.32" x2="327.60" y2="487.32" stroke="#0b0b0b" stroke-width="0.9"/>
<line x1="394.58" y1="540.40" x2="394.58" y2="542.40" stroke="#0b0b0b" stroke-width="0.7"/>
<line x1="325.60" y1="485.32" x2="327.60" y2="485.32" stroke="#0b0b0b" stroke-width="0.9"/>
<line x1="396.68" y1="540.40" x2="396.68" y2="542.40" stroke="#0b0b0b" stroke-width="0.7"/>
<line x1="325.60" y1="483.59" x2="327.60" y2="483.59" stroke="#0b0b0b" stroke-width="0.9"/>
<line x1="398.54" y1="540.40" x2="398.54" y2="542.40" stroke="#0b0b0b" stroke-width="0.7"/>
<line x1="325.60" y1="482.07" x2="327.60" y2="482.07" stroke="#0b0b0b" stroke-width="0.9"/>
<line x1="400.20" y1="540.40" x2="400.20" y2="544.20" stroke="#0b0b0b" stroke-width="1.0"/>
<line x1="323.80" y1="480.70" x2="327.60" y2="480.70" stroke="#0b0b0b" stroke-width="1.0"/>
<line x1="411.13" y1="540.40" x2="411.13" y2="542.40" stroke="#0b0b0b" stroke-width="0.7"/>
<line x1="325.60" y1="471.71" x2="327.60" y2="471.71" stroke="#0b0b0b" stroke-width="0.9"/>
<line x1="417.52" y1="540.40" x2="417.52" y2="542.40" stroke="#0b0b0b" stroke-width="0.7"/>
<line x1="325.60" y1="466.46" x2="327.60" y2="466.46" stroke="#0b0b0b" stroke-width="0.9"/>
<line x1="422.05" y1="540.40" x2="422.05" y2="542.40" stroke="#0b0b0b" stroke-width="0.7"/>
<line x1="325.60" y1="462.73" x2="327.60" y2="462.73" stroke="#0b0b0b" stroke-width="0.9"/>
<line x1="425.57" y1="540.40" x2="425.57" y2="542.40" stroke="#0b0b0b" stroke-width="0.7"/>
<line x1="325.60" y1="459.84" x2="327.60" y2="459.84" stroke="#0b0b0b" stroke-width="0.9"/>
<line x1="428.45" y1="540.40" x2="428.45" y2="542.40" stroke="#0b0b0b" stroke-width="0.7"/>
<line x1="325.60" y1="457.47" x2="327.60" y2="457.47" stroke="#0b0b0b" stroke-width="0.9"/>
<line x1="430.88" y1="540.40" x2="430.88" y2="542.40" stroke="#0b0b0b" stroke-width="0.7"/>
<line x1="325.60" y1="455.47" x2="327.60" y2="455.47" stroke="#0b0b0b" stroke-width="0.9"/>
<line x1="432.98" y1="540.40" x2="432.98" y2="542.40" stroke="#0b0b0b" stroke-width="0.7"/>
<line x1="325.60" y1="453.74" x2="327.60" y2="453.74" stroke="#0b0b0b" stroke-width="0.9"/>
<line x1="434.84" y1="540.40" x2="434.84" y2="542.40" stroke="#0b0b0b" stroke-width="0.7"/>
<line x1="325.60" y1="452.22" x2="327.60" y2="452.22" stroke="#0b0b0b" stroke-width="0.9"/>
<line x1="436.50" y1="540.40" x2="436.50" y2="544.20" stroke="#0b0b0b" stroke-width="1.0"/>
<line x1="323.80" y1="450.85" x2="327.60" y2="450.85" stroke="#0b0b0b" stroke-width="1.0"/>
<line x1="447.43" y1="540.40" x2="447.43" y2="542.40" stroke="#0b0b0b" stroke-width="0.7"/>
<line x1="325.60" y1="441.86" x2="327.60" y2="441.86" stroke="#0b0b0b" stroke-width="0.9"/>
<line x1="453.82" y1="540.40" x2="453.82" y2="542.40" stroke="#0b0b0b" stroke-width="0.7"/>
<line x1="325.60" y1="436.61" x2="327.60" y2="436.61" stroke="#0b0b0b" stroke-width="0.9"/>
<line x1="458.35" y1="540.40" x2="458.35" y2="542.40" stroke="#0b0b0b" stroke-width="0.7"/>
<line x1="325.60" y1="432.88" x2="327.60" y2="432.88" stroke="#0b0b0b" stroke-width="0.9"/>
<line x1="461.87" y1="540.40" x2="461.87" y2="542.40" stroke="#0b0b0b" stroke-width="0.7"/>
<line x1="325.60" y1="429.99" x2="327.60" y2="429.99" stroke="#0b0b0b" stroke-width="0.9"/>
<line x1="464.75" y1="540.40" x2="464.75" y2="542.40" stroke="#0b0b0b" stroke-width="0.7"/>
<line x1="325.60" y1="427.62" x2="327.60" y2="427.62" stroke="#0b0b0b" stroke-width="0.9"/>
<line x1="467.18" y1="540.40" x2="467.18" y2="542.40" stroke="#0b0b0b" stroke-width="0.7"/>
<line x1="325.60" y1="425.62" x2="327.60" y2="425.62" stroke="#0b0b0b" stroke-width="0.9"/>
<line x1="469.28" y1="540.40" x2="469.28" y2="542.40" stroke="#0b0b0b" stroke-width="0.7"/>
<line x1="325.60" y1="423.89" x2="327.60" y2="423.89" stroke="#0b0b0b" stroke-width="0.9"/>
<line x1="471.14" y1="540.40" x2="471.14" y2="542.40" stroke="#0b0b0b" stroke-width="0.7"/>
<line x1="325.60" y1="422.37" x2="327.60" y2="422.37" stroke="#0b0b0b" stroke-width="0.9"/>
<line x1="472.80" y1="540.40" x2="472.80" y2="544.20" stroke="#0b0b0b" stroke-width="1.0"/>
<line x1="323.80" y1="421.00" x2="327.60" y2="421.00" stroke="#0b0b0b" stroke-width="1.0"/>
<text x="329.10" y="556.60" font-size="9.6" text-anchor="end" style="font-weight:normal" stroke="#0b0b0b" stroke-width="0.3">10</text>
<text x="330.70" y="550.50" font-size="8.6" style="font-weight:normal" stroke="#0b0b0b" stroke-width="0.3">0</text>
<g transform="translate(321.00 540.40) rotate(-90)"><text x="1.2" y="0" font-size="9.6" text-anchor="end" style="font-weight:normal" stroke="#0b0b0b" stroke-width="0.3">10</text><text x="2.6" y="-5.8" font-size="8.6" style="font-weight:normal" stroke="#0b0b0b" stroke-width="0.3">0</text></g>
<text x="365.40" y="556.60" font-size="9.6" text-anchor="end" style="font-weight:normal" stroke="#0b0b0b" stroke-width="0.3">10</text>
<text x="367.00" y="550.50" font-size="8.6" style="font-weight:normal" stroke="#0b0b0b" stroke-width="0.3">1</text>
<g transform="translate(321.00 510.55) rotate(-90)"><text x="1.2" y="0" font-size="9.6" text-anchor="end" style="font-weight:normal" stroke="#0b0b0b" stroke-width="0.3">10</text><text x="2.6" y="-5.8" font-size="8.6" style="font-weight:normal" stroke="#0b0b0b" stroke-width="0.3">1</text></g>
<text x="401.70" y="556.60" font-size="9.6" text-anchor="end" style="font-weight:normal" stroke="#0b0b0b" stroke-width="0.3">10</text>
<text x="403.30" y="550.50" font-size="8.6" style="font-weight:normal" stroke="#0b0b0b" stroke-width="0.3">2</text>
<g transform="translate(321.00 480.70) rotate(-90)"><text x="1.2" y="0" font-size="9.6" text-anchor="end" style="font-weight:normal" stroke="#0b0b0b" stroke-width="0.3">10</text><text x="2.6" y="-5.8" font-size="8.6" style="font-weight:normal" stroke="#0b0b0b" stroke-width="0.3">2</text></g>
<text x="438.00" y="556.60" font-size="9.6" text-anchor="end" style="font-weight:normal" stroke="#0b0b0b" stroke-width="0.3">10</text>
<text x="439.60" y="550.50" font-size="8.6" style="font-weight:normal" stroke="#0b0b0b" stroke-width="0.3">3</text>
<g transform="translate(321.00 450.85) rotate(-90)"><text x="1.2" y="0" font-size="9.6" text-anchor="end" style="font-weight:normal" stroke="#0b0b0b" stroke-width="0.3">10</text><text x="2.6" y="-5.8" font-size="8.6" style="font-weight:normal" stroke="#0b0b0b" stroke-width="0.3">3</text></g>
<text x="474.30" y="556.60" font-size="9.6" text-anchor="end" style="font-weight:normal" stroke="#0b0b0b" stroke-width="0.3">10</text>
<text x="475.90" y="550.50" font-size="8.6" style="font-weight:normal" stroke="#0b0b0b" stroke-width="0.3">4</text>
<g transform="translate(321.00 421.00) rotate(-90)"><text x="1.2" y="0" font-size="9.6" text-anchor="end" style="font-weight:normal" stroke="#0b0b0b" stroke-width="0.3">10</text><text x="2.6" y="-5.8" font-size="8.6" style="font-weight:normal" stroke="#0b0b0b" stroke-width="0.3">4</text></g>
<text x="403.00" y="567.70" font-size="12.5" text-anchor="middle">CLG tetramer (EBV)</text>
<text x="297.30" y="482.30" font-size="12.5" text-anchor="middle" transform="rotate(-90 297.30 482.30)">CD8</text>
<text x="471.00" y="432.80" font-size="12.8" text-anchor="end">0.1% of CD8+</text>
<path d="M343.4 459.5h1.2M367.6 461.9h1.2M356.9 461.8h1.2M373.2 456.7h1.2M376.5 458.2h1.2M364.0 457.7h1.2M349.2 456.8h1.2M342.4 457.9h1.2M367.9 457.0h1.2M353.5 452.5h1.2M359.6 458.3h1.2M360.9 458.2h1.2M353.8 457.9h1.2M385.3 457.1h1.2M361.1 455.7h1.2M385.2 457.6h1.2M350.7 451.9h1.2M339.7 457.9h1.2M367.5 452.3h1.2M346.4 462.2h1.2M367.5 458.2h1.2M353.8 456.2h1.2M361.7 456.5h1.2M353.2 454.4h1.2M378.5 457.1h1.2M352.9 455.6h1.2M365.1 459.3h1.2M352.8 454.9h1.2M357.6 457.8h1.2M361.6 457.2h1.2M358.8 461.2h1.2M381.7 456.7h1.2M347.4 455.1h1.2M362.9 457.1h1.2M372.5 452.4h1.2M366.1 453.8h1.2M353.5 459.3h1.2M349.1 455.1h1.2M359.8 458.1h1.2M358.6 460.9h1.2M361.1 457.6h1.2M364.2 457.4h1.2M349.1 454.7h1.2M369.2 458.1h1.2M373.4 458.3h1.2M354.5 455.4h1.2M361.1 456.4h1.2M370.7 454.5h1.2M366.6 457.1h1.2M361.7 455.3h1.2M350.8 456.3h1.2M338.5 459.3h1.2M345.7 456.5h1.2M386.1 455.5h1.2M373.7 456.6h1.2M362.5 458.1h1.2M355.1 462.2h1.2M343.1 459.8h1.2M369.8 455.7h1.2M373.7 453.9h1.2M354.8 454.9h1.2M384.4 457.1h1.2M373.0 457.5h1.2M337.7 456.9h1.2M348.1 456.9h1.2M352.8 456.5h1.2M330.9 452.8h1.2M376.6 457.9h1.2M346.9 457.1h1.2M367.6 456.2h1.2M364.1 461.2h1.2M344.0 454.3h1.2M362.0 460.3h1.2M347.5 460.1h1.2M345.5 454.7h1.2M355.9 454.8h1.2M361.3 460.3h1.2M350.2 452.3h1.2M348.7 459.3h1.2M375.2 456.9h1.2M358.7 454.0h1.2M335.4 456.2h1.2M344.8 460.1h1.2M348.0 454.7h1.2M356.9 461.0h1.2M344.0 453.9h1.2M372.5 459.4h1.2M361.1 457.9h1.2M351.1 457.3h1.2M374.7 461.3h1.2M339.0 456.7h1.2M354.8 460.4h1.2M369.5 453.9h1.2M341.9 458.6h1.2M342.8 455.7h1.2M361.7 460.1h1.2M358.2 457.6h1.2M366.4 455.2h1.2M353.4 458.3h1.2M351.6 459.8h1.2M373.1 456.5h1.2M359.5 456.4h1.2M366.4 455.8h1.2M362.4 455.9h1.2M373.1 456.6h1.2M345.7 455.2h1.2M350.7 457.9h1.2M359.2 457.2h1.2M350.1 456.2h1.2M353.4 456.6h1.2M365.0 458.9h1.2M376.4 456.5h1.2M372.4 455.6h1.2M349.6 454.8h1.2M382.1 458.1h1.2M337.9 455.3h1.2M351.0 458.7h1.2M369.9 454.9h1.2M376.4 457.7h1.2M342.4 453.6h1.2M365.1 457.1h1.2M342.3 458.3h1.2M370.5 454.8h1.2M368.7 458.4h1.2M350.3 456.5h1.2M349.8 451.7h1.2M334.6 453.5h1.2M373.9 458.6h1.2M356.5 451.2h1.2M345.3 457.1h1.2M343.0 451.7h1.2M348.1 457.0h1.2M352.2 457.0h1.2M348.6 458.7h1.2M352.7 453.6h1.2M359.8 457.4h1.2M348.6 457.5h1.2M379.8 458.6h1.2M359.1 455.5h1.2M380.9 451.9h1.2M354.0 454.4h1.2M340.3 456.6h1.2M341.7 459.2h1.2M375.1 454.7h1.2M353.8 454.7h1.2M353.2 455.6h1.2M344.5 457.6h1.2M344.9 454.5h1.2M355.8 457.4h1.2M358.6 454.8h1.2M382.5 459.3h1.2M356.7 457.2h1.2M361.3 459.3h1.2M340.6 458.6h1.2M348.7 458.9h1.2M369.8 458.2h1.2M338.9 454.6h1.2M362.4 455.5h1.2M361.1 457.8h1.2M369.2 459.9h1.2M349.0 456.4h1.2M364.3 461.6h1.2M368.1 455.3h1.2M344.2 457.9h1.2M355.2 456.1h1.2M338.3 459.1h1.2M367.4 456.5h1.2M368.6 460.5h1.2M357.3 457.5h1.2M352.6 462.8h1.2M379.1 457.2h1.2M382.7 455.9h1.2M362.4 454.2h1.2M378.5 458.1h1.2M366.0 455.8h1.2M365.3 457.7h1.2M348.4 458.5h1.2M368.5 454.6h1.2M364.8 456.8h1.2M355.2 456.6h1.2M374.8 456.2h1.2M357.5 461.4h1.2M368.0 455.5h1.2M351.8 454.5h1.2M355.7 456.6h1.2M356.4 458.2h1.2M348.3 458.9h1.2M372.9 458.5h1.2M351.4 458.2h1.2M349.3 457.6h1.2M358.9 459.6h1.2M365.2 456.0h1.2M344.1 454.6h1.2M367.7 454.1h1.2M355.7 457.8h1.2M356.0 457.9h1.2M371.2 455.1h1.2M360.7 452.9h1.2M347.4 456.9h1.2M359.7 457.6h1.2M358.1 457.8h1.2M377.6 452.9h1.2M354.9 458.5h1.2M385.0 453.4h1.2M346.5 460.5h1.2M370.5 454.9h1.2M353.0 455.9h1.2M349.8 454.6h1.2M351.3 455.4h1.2M375.0 454.1h1.2M344.7 460.1h1.2M335.5 455.5h1.2M341.4 457.4h1.2M339.6 458.6h1.2M354.1 456.5h1.2M367.4 456.8h1.2M385.4 456.0h1.2M336.9 456.7h1.2M373.5 457.1h1.2M372.8 459.0h1.2M345.6 456.1h1.2M365.0 456.4h1.2M365.7 455.4h1.2M338.5 454.3h1.2M364.6 455.8h1.2M357.5 455.9h1.2M356.6 455.6h1.2M355.5 457.1h1.2M370.0 458.0h1.2M377.3 458.3h1.2M352.0 459.2h1.2M365.0 457.5h1.2M353.5 458.6h1.2M349.2 460.1h1.2M363.4 455.9h1.2M368.2 456.9h1.2M370.5 456.1h1.2M371.1 457.4h1.2M353.3 454.9h1.2M354.4 453.8h1.2M357.3 458.3h1.2M360.0 454.0h1.2M376.3 458.2h1.2M363.4 457.1h1.2M361.3 459.2h1.2M374.6 456.4h1.2M374.6 457.3h1.2M355.4 456.4h1.2M384.0 455.2h1.2M368.0 456.6h1.2M371.3 456.5h1.2M368.1 456.5h1.2M349.5 456.1h1.2M362.2 456.9h1.2M366.9 457.4h1.2M345.6 457.2h1.2M353.4 457.3h1.2M356.4 456.2h1.2M330.4 458.3h1.2M337.8 459.5h1.2M359.4 456.7h1.2M344.2 457.7h1.2M347.4 458.0h1.2M344.0 459.5h1.2M368.4 458.0h1.2M335.6 455.9h1.2M359.9 456.1h1.2M356.7 456.3h1.2M362.2 460.9h1.2M356.2 456.1h1.2M367.3 456.3h1.2M370.7 456.0h1.2M350.1 457.8h1.2M377.6 455.9h1.2M367.2 456.7h1.2M356.0 455.1h1.2M369.9 455.9h1.2M350.3 453.9h1.2M332.7 458.7h1.2M346.3 460.0h1.2M346.2 458.1h1.2M366.6 459.9h1.2M379.1 458.1h1.2M355.7 458.7h1.2M363.7 459.0h1.2M362.1 456.6h1.2M363.8 455.7h1.2M354.0 458.6h1.2M379.3 455.7h1.2M355.9 457.3h1.2M365.4 456.8h1.2M342.7 453.9h1.2M375.9 458.0h1.2M360.5 454.9h1.2M351.2 455.7h1.2M376.1 456.9h1.2M368.6 460.1h1.2M372.1 455.7h1.2M368.6 454.2h1.2M329.7 455.5h1.2M360.6 458.1h1.2M346.9 452.9h1.2M345.3 456.6h1.2M338.0 455.8h1.2M373.7 458.1h1.2M376.1 457.7h1.2M377.9 454.8h1.2M355.1 456.8h1.2M362.2 457.2h1.2M345.5 458.2h1.2M368.4 458.5h1.2M361.1 455.5h1.2M363.9 454.6h1.2M345.2 454.4h1.2M359.5 455.2h1.2M359.2 451.2h1.2M372.5 460.6h1.2M349.1 458.5h1.2M374.2 454.0h1.2M355.2 457.1h1.2M361.7 456.3h1.2M353.2 461.5h1.2M366.1 453.6h1.2M349.9 454.3h1.2M370.7 459.3h1.2M362.8 459.0h1.2M374.4 457.0h1.2M351.7 457.8h1.2M350.1 455.9h1.2M370.0 456.8h1.2M347.8 455.5h1.2M355.0 459.1h1.2M382.7 457.5h1.2M376.6 458.6h1.2M351.0 459.4h1.2M362.6 459.0h1.2M342.4 458.9h1.2M348.2 457.4h1.2M363.7 456.7h1.2M348.2 455.0h1.2M360.1 460.4h1.2M348.3 452.6h1.2M355.6 453.8h1.2M378.5 455.6h1.2M343.0 461.7h1.2M374.7 459.0h1.2M370.1 460.0h1.2M352.0 458.0h1.2M331.2 457.6h1.2M361.2 451.5h1.2M346.2 457.7h1.2M371.8 457.1h1.2M367.1 454.4h1.2M382.0 459.8h1.2M349.0 458.5h1.2M374.3 455.1h1.2M339.3 458.2h1.2M339.7 454.0h1.2M361.4 455.4h1.2M356.8 454.2h1.2M365.1 457.9h1.2M343.8 459.8h1.2M359.6 456.4h1.2M336.3 458.7h1.2M374.1 459.4h1.2M346.9 456.0h1.2M330.9 457.9h1.2M355.4 455.5h1.2M331.9 460.5h1.2M360.1 456.6h1.2M371.4 455.3h1.2M352.2 457.9h1.2M365.3 454.5h1.2M346.7 459.7h1.2M358.2 457.9h1.2M334.1 456.7h1.2M369.8 457.6h1.2M369.9 459.5h1.2M367.3 457.8h1.2M350.6 460.9h1.2M352.9 457.0h1.2M361.5 456.0h1.2M365.1 456.5h1.2M354.2 457.8h1.2M359.9 460.5h1.2M368.4 460.6h1.2M352.0 461.7h1.2M376.5 457.9h1.2M364.8 457.3h1.2M362.6 456.7h1.2M362.2 455.2h1.2M339.7 456.3h1.2M358.6 458.0h1.2M345.4 455.6h1.2M354.2 456.4h1.2M348.4 458.3h1.2M349.8 464.7h1.2M390.7 461.7h1.2M378.7 453.9h1.2M354.5 463.2h1.2M368.9 453.7h1.2M342.2 450.6h1.2M369.1 461.2h1.2M352.3 451.5h1.2M348.2 468.3h1.2M345.8 460.6h1.2M342.0 448.4h1.2M352.0 458.5h1.2M347.2 456.2h1.2M353.8 460.3h1.2M355.8 455.7h1.2M342.8 459.8h1.2M362.5 459.4h1.2M340.3 449.7h1.2M381.4 458.0h1.2M354.9 457.5h1.2M356.6 451.7h1.2M343.7 453.5h1.2M366.3 456.9h1.2M372.1 459.4h1.2M350.6 457.9h1.2M350.1 443.7h1.2M350.0 464.9h1.2M370.3 456.4h1.2M359.4 464.6h1.2M330.6 465.5h1.2M344.0 465.0h1.2M359.7 458.0h1.2M358.5 464.4h1.2M375.7 466.2h1.2M368.8 461.3h1.2M381.0 458.4h1.2M363.0 460.4h1.2M359.6 464.4h1.2M402.5 461.7h1.2M402.3 452.3h1.2M348.7 502.4h1.2M346.8 498.7h1.2M354.4 510.2h1.2M346.4 513.9h1.2M334.8 498.6h1.2M355.0 520.0h1.2M368.4 512.6h1.2M363.0 518.8h1.2M354.8 508.7h1.2M370.3 527.9h1.2M356.3 513.6h1.2M343.1 511.2h1.2M350.3 526.0h1.2M351.0 521.5h1.2M348.8 519.7h1.2M360.9 504.6h1.2M343.5 507.3h1.2M337.3 512.9h1.2M357.2 516.8h1.2M343.1 518.7h1.2M334.9 520.2h1.2M357.6 505.4h1.2M349.8 516.4h1.2M351.5 526.7h1.2M336.7 515.4h1.2M351.0 518.7h1.2M347.4 515.0h1.2M343.3 508.1h1.2M358.3 513.7h1.2M336.5 509.9h1.2M358.5 520.0h1.2M334.9 518.4h1.2M372.2 525.7h1.2M358.4 515.8h1.2M361.5 492.3h1.2M359.6 509.2h1.2M349.1 528.9h1.2M333.1 498.4h1.2M346.3 501.3h1.2M352.7 520.5h1.2M343.3 504.4h1.2M344.0 518.1h1.2M346.8 513.9h1.2M357.7 509.6h1.2M366.0 491.7h1.2M349.4 505.9h1.2M353.5 533.3h1.2M348.7 493.8h1.2M343.3 523.0h1.2M345.0 521.2h1.2M348.4 491.9h1.2M330.7 505.9h1.2M352.5 509.5h1.2M365.3 509.1h1.2M348.8 515.6h1.2M367.7 509.3h1.2M330.3 514.2h1.2M362.8 511.3h1.2M361.7 502.8h1.2M339.8 525.1h1.2M354.4 487.8h1.2M352.8 512.4h1.2M348.4 519.6h1.2M360.0 509.9h1.2M337.8 534.3h1.2M349.4 519.3h1.2M338.4 532.1h1.2M362.0 502.0h1.2M349.7 505.5h1.2M366.6 514.8h1.2M329.1 517.4h1.2M344.5 513.6h1.2M351.7 506.4h1.2M356.4 517.6h1.2M357.9 509.5h1.2M359.2 509.3h1.2M339.8 526.4h1.2M352.5 509.5h1.2M335.2 514.1h1.2M338.0 510.2h1.2M354.8 518.4h1.2M348.8 501.9h1.2M329.6 520.5h1.2M336.5 520.7h1.2M335.1 505.4h1.2M354.3 523.1h1.2M356.0 509.5h1.2M337.2 496.4h1.2M348.8 499.1h1.2M334.6 537.0h1.2M362.6 502.0h1.2M347.7 510.5h1.2M337.3 531.2h1.2M347.4 516.8h1.2M359.6 517.0h1.2M339.8 528.8h1.2M349.4 503.4h1.2M348.0 510.6h1.2M364.4 507.9h1.2M333.4 502.8h1.2M357.8 511.3h1.2M360.1 490.4h1.2M355.4 538.4h1.2M345.5 515.2h1.2M344.0 510.9h1.2M362.6 512.6h1.2M348.9 509.8h1.2M360.5 519.3h1.2M363.5 503.3h1.2M359.2 505.7h1.2M375.1 498.2h1.2M340.0 518.3h1.2M348.4 500.8h1.2M360.3 517.1h1.2M353.1 501.8h1.2M358.5 520.5h1.2M335.5 534.0h1.2M341.9 496.6h1.2M344.8 516.2h1.2M372.0 506.2h1.2M339.7 512.4h1.2M361.2 522.4h1.2M342.1 515.0h1.2M349.8 523.7h1.2M333.9 511.5h1.2M345.9 518.8h1.2M354.5 498.3h1.2M349.5 520.3h1.2M355.3 515.1h1.2M352.2 510.8h1.2M337.2 509.8h1.2M353.8 520.3h1.2M348.6 520.1h1.2M343.6 519.2h1.2M348.1 512.1h1.2M349.2 520.7h1.2M350.9 525.3h1.2M338.4 523.9h1.2M330.2 513.4h1.2M357.1 519.5h1.2M340.0 495.0h1.2M357.0 506.3h1.2M360.0 503.1h1.2M350.8 533.3h1.2M373.6 514.8h1.2M342.8 494.5h1.2M344.7 525.1h1.2M357.8 529.5h1.2M341.6 499.5h1.2M334.7 515.6h1.2M337.0 528.3h1.2M356.3 503.9h1.2M367.4 514.9h1.2M352.6 536.4h1.2M361.8 511.3h1.2M345.2 514.3h1.2M357.9 485.7h1.2M354.5 521.7h1.2M356.9 529.5h1.2M339.5 504.2h1.2M351.1 506.0h1.2M364.4 514.0h1.2M336.0 524.2h1.2M339.6 515.3h1.2M344.6 497.7h1.2M340.9 504.1h1.2M350.6 527.3h1.2M348.7 518.7h1.2M348.9 493.3h1.2M352.1 511.9h1.2M366.7 513.3h1.2M358.6 507.3h1.2M333.7 507.3h1.2M338.3 513.0h1.2M367.4 511.9h1.2M351.6 530.8h1.2M357.0 528.5h1.2M346.1 536.7h1.2M348.6 516.6h1.2M372.2 537.8h1.2M351.2 511.0h1.2M347.7 510.6h1.2M347.2 511.4h1.2M350.3 514.1h1.2M342.6 510.9h1.2M348.8 526.2h1.2M362.3 490.8h1.2M361.9 525.7h1.2M352.2 503.8h1.2M340.5 511.5h1.2M360.8 513.0h1.2M351.8 532.4h1.2M359.6 528.3h1.2M351.7 537.9h1.2M365.2 525.0h1.2M337.7 506.6h1.2M339.0 534.7h1.2M347.7 527.0h1.2M353.3 505.6h1.2M350.1 497.9h1.2M350.9 522.4h1.2M331.7 519.6h1.2M347.2 511.2h1.2M342.8 521.7h1.2M355.1 507.7h1.2M355.7 514.7h1.2M346.0 512.6h1.2M362.5 514.5h1.2M368.0 520.7h1.2M339.8 492.1h1.2M355.0 511.9h1.2M353.5 514.9h1.2M336.9 526.4h1.2M332.6 512.2h1.2M329.2 507.4h1.2M340.6 523.9h1.2M355.0 504.5h1.2M330.5 521.3h1.2M359.4 516.7h1.2M353.1 499.7h1.2M347.0 522.0h1.2M343.0 530.8h1.2M337.3 486.2h1.2M342.4 477.3h1.2M357.0 482.8h1.2M344.6 528.8h1.2M368.0 501.0h1.2M366.1 473.2h1.2M359.7 492.8h1.2M365.1 504.5h1.2M354.8 506.3h1.2M356.8 505.9h1.2M359.1 532.4h1.2M347.1 517.1h1.2M343.2 531.0h1.2M342.2 516.9h1.2M377.4 530.7h1.2M334.9 531.2h1.2M375.0 513.4h1.2M355.8 505.0h1.2M368.7 530.5h1.2M358.1 489.3h1.2M343.1 505.7h1.2M354.1 521.4h1.2M348.2 517.4h1.2M349.2 502.2h1.2M373.4 513.1h1.2M350.2 505.7h1.2M342.0 509.0h1.2M337.4 507.5h1.2M359.9 475.8h1.2M360.7 515.9h1.2M340.4 496.0h1.2M363.4 525.1h1.2M332.8 534.5h1.2M357.7 529.8h1.2M352.1 532.7h1.2M344.3 491.4h1.2M344.2 535.0h1.2M344.3 514.1h1.2M353.1 488.8h1.2M349.7 494.0h1.2M355.5 504.1h1.2M345.1 515.0h1.2M347.1 475.3h1.2M347.1 511.4h1.2M357.2 471.5h1.2M376.6 528.3h1.2M349.3 517.9h1.2M338.1 525.3h1.2M365.8 519.5h1.2M341.8 494.4h1.2M342.4 505.5h1.2M350.5 480.0h1.2M354.3 491.2h1.2M351.8 496.7h1.2M365.3 502.1h1.2M368.1 515.9h1.2M339.1 513.7h1.2M345.8 471.9h1.2M346.6 534.2h1.2M341.6 500.5h1.2M351.2 534.2h1.2M357.0 482.1h1.2M386.7 521.9h1.2M348.2 528.9h1.2M352.0 524.0h1.2M361.5 520.0h1.2M350.2 532.8h1.2M381.5 485.5h1.2M376.2 472.9h1.2M361.9 519.5h1.2M333.2 525.6h1.2M350.6 525.1h1.2M355.6 486.9h1.2M349.5 516.0h1.2M351.3 477.8h1.2M362.7 486.1h1.2M335.6 473.5h1.2M340.2 497.2h1.2M347.1 517.6h1.2M360.2 505.3h1.2M353.3 529.0h1.2M359.1 511.6h1.2M355.6 470.3h1.2M353.1 495.9h1.2M346.0 515.2h1.2M361.9 492.9h1.2M364.2 516.7h1.2M334.5 526.9h1.2M367.0 521.4h1.2M352.1 537.0h1.2M348.4 523.0h1.2M359.4 490.8h1.2M342.8 486.2h1.2M346.3 522.9h1.2M356.5 495.9h1.2M348.3 488.0h1.2M349.7 476.3h1.2M337.4 493.3h1.2M395.0 487.5h1.2M385.4 491.7h1.2M394.0 485.4h1.2M389.2 492.1h1.2M386.9 491.9h1.2M380.9 491.4h1.2M390.1 490.3h1.2M384.4 492.2h1.2M374.9 497.0h1.2M387.3 490.4h1.2M381.1 492.5h1.2M402.7 483.9h1.2M393.5 488.3h1.2M377.7 490.6h1.2M385.5 489.4h1.2M388.9 488.6h1.2M392.0 487.3h1.2M399.2 487.7h1.2M369.4 497.8h1.2M381.1 495.3h1.2M388.9 491.2h1.2M400.5 487.8h1.2" stroke="#141414" stroke-width="1.2" fill="none"/>
</svg></body></html>
